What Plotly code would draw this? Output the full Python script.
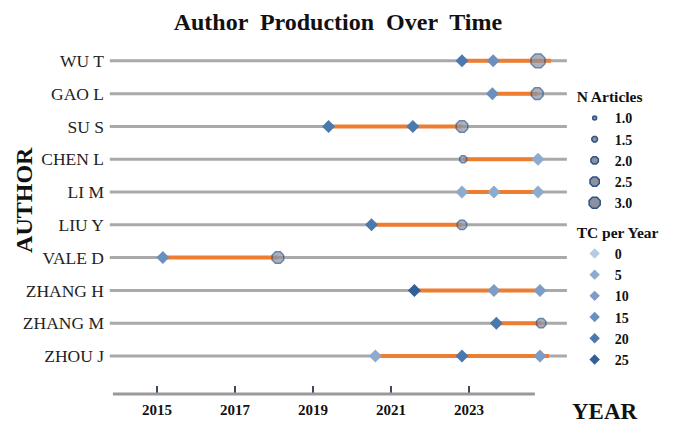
import plotly.graph_objects as go

# ---------------- data ----------------
authors = ["ZHOU J", "ZHANG M", "ZHANG H", "VALE D", "LIU Y",
           "LI M", "CHEN L", "SU S", "GAO L", "WU T"]  # bottom -> top

# production span (orange segment) per author
seg_author = ["WU T", "GAO L", "SU S", "CHEN L", "LI M", "LIU Y",
              "VALE D", "ZHANG H", "ZHANG M", "ZHOU J"]
seg_start = [2022.82, 2023.60, 2019.40, 2022.85, 2022.82, 2020.50,
             2015.15, 2021.60, 2023.70, 2020.60]
seg_end = [2025.10, 2024.75, 2022.82, 2024.77, 2024.77, 2022.82,
           2018.10, 2024.82, 2024.85, 2025.05]

# N Articles points (octagon markers)
na_author = ["WU T", "GAO L", "SU S", "CHEN L", "LIU Y", "VALE D", "ZHANG M"]
na_year = [2024.77, 2024.75, 2022.82, 2022.85, 2022.82, 2018.10, 2024.85]
na_value = [3.0, 2.5, 2.5, 1.5, 2.0, 2.5, 2.0]

# TC per Year points (diamond markers)
tc_author = ["WU T", "WU T", "GAO L", "SU S", "SU S", "CHEN L",
             "LI M", "LI M", "LI M", "LIU Y", "VALE D",
             "ZHANG H", "ZHANG H", "ZHANG H", "ZHANG M",
             "ZHOU J", "ZHOU J", "ZHOU J"]
tc_year = [2022.82, 2023.62, 2023.60, 2019.40, 2021.56, 2024.77,
           2022.82, 2023.64, 2024.77, 2020.50, 2015.15,
           2021.60, 2023.64, 2024.82, 2023.70,
           2020.60, 2022.82, 2024.82]
tc_value = [20, 15, 15, 20, 20, 5,
            5, 5, 5, 20, 15,
            25, 10, 10, 20,
            5, 20, 10]

na_levels = [1.0, 1.5, 2.0, 2.5, 3.0]
tc_levels = [0, 5, 10, 15, 20, 25]
x_ticks = [2015, 2017, 2019, 2021, 2023]

grid_start, grid_end = 2013.79, 2025.51
axis_start, axis_end = 2013.87, 2024.69

# ---------------- styles ----------------
SERIF = "Liberation Serif, Times New Roman, serif"
GRAY = "#a9a9a9"
ORANGE = "#ed7d31"
NA_FILL = "#8a92a2"
NA_LINE = "#2f5283"
tc_colors = {0: "#b7cbe0", 5: "#8eaacc", 10: "#7d9dc6", 15: "#6a90c0",
             20: "#4b79ad", 25: "#315f96"}


def na_size(v):
    return 5 + (v - 1.0) * 5


fig = go.Figure()

# gray background row lines
gx, gy = [], []
for a in authors:
    gx += [grid_start, grid_end, None]
    gy += [a, a, None]
fig.add_trace(go.Scatter(x=gx, y=gy, mode="lines",
                         line=dict(color=GRAY, width=3),
                         hoverinfo="skip", showlegend=False))

# orange production segments
ox, oy = [], []
for a, s, e in zip(seg_author, seg_start, seg_end):
    ox += [s, e, None]
    oy += [a, a, None]
fig.add_trace(go.Scatter(x=ox, y=oy, mode="lines",
                         line=dict(color=ORANGE, width=4),
                         hoverinfo="skip", showlegend=False))

# diamonds (TC per year)
fig.add_trace(go.Scatter(
    x=tc_year, y=tc_author, mode="markers",
    marker=dict(symbol="diamond", size=10,
                color=[tc_colors[v] for v in tc_value],
                line=dict(width=0)),
    showlegend=False, cliponaxis=False))

# octagons (N articles)
fig.add_trace(go.Scatter(
    x=na_year, y=na_author, mode="markers",
    marker=dict(symbol="octagon", size=[na_size(v) for v in na_value],
                color=NA_FILL, line=dict(color=NA_LINE, width=1.5)),
    showlegend=False, cliponaxis=False))

# legend entries
for v in na_levels:
    fig.add_trace(go.Scatter(
        x=[None], y=[None], mode="markers", name=f"<b>{v:.1f}</b>",
        marker=dict(symbol="octagon" if v > 1.0 else "circle",
                    size=na_size(v) * 0.8,
                    color=NA_FILL, line=dict(color=NA_LINE, width=1.5)),
        legend="legend"))
for v in tc_levels:
    fig.add_trace(go.Scatter(
        x=[None], y=[None], mode="markers", name=f"<b>{v}</b>",
        marker=dict(symbol="diamond", size=8, color=tc_colors[v]),
        legend="legend2"))

# x axis line
fig.add_shape(type="line", xref="x", yref="paper",
              x0=axis_start, x1=axis_end, y0=0, y1=0,
              line=dict(color="#9a9a9a", width=3))

fig.add_annotation(text="<b>AUTHOR</b>", xref="paper", yref="paper",
                   x=-0.174, y=0.566, textangle=-90, showarrow=False,
                   xanchor="center", yanchor="middle",
                   font=dict(family=SERIF, size=24, color="#111"))
fig.add_annotation(text="<b>YEAR</b>", xref="paper", yref="paper",
                   x=1.075, y=-0.052, showarrow=False,
                   xanchor="center", yanchor="middle",
                   font=dict(family=SERIF, size=23, color="#111"))

legend_common = dict(
    bgcolor="rgba(0,0,0,0)", itemsizing="trace",
    font=dict(family=SERIF, size=14, color="#111"),
    itemwidth=30, tracegroupgap=0, xanchor="left", yanchor="top")

fig.update_layout(
    width=676, height=425,
    margin=dict(l=97, r=114, t=43, b=39, autoexpand=False),
    paper_bgcolor="white", plot_bgcolor="white",
    title=dict(text="<b>Author  Production  Over  Time</b>",
               x=0.488, xanchor="center", y=0.967, yanchor="middle",
               font=dict(family=SERIF, size=24, color="#111")),
    xaxis=dict(range=[2013.667, 2025.59], tickvals=x_ticks,
               ticktext=[f"<b>{t}</b>" for t in x_ticks],
               ticks="inside", ticklen=8, tickwidth=2, tickcolor="#3b4a5c",
               ticklabelstandoff=5,
               showgrid=False, zeroline=False, showline=False,
               tickfont=dict(family=SERIF, size=15, color="#111")),
    yaxis=dict(type="category", categoryorder="array", categoryarray=authors,
               range=[-1.16, 9.3], showgrid=False, zeroline=False,
               showline=False, ticks="",
               tickfont=dict(family=SERIF, size=17.5, color="#222")),
    legend=dict(x=1.01, y=0.909,
                title=dict(text="<b>N Articles</b>",
                           font=dict(family=SERIF, size=15.5, color="#111")),
                **legend_common),
    legend2=dict(x=1.01, y=0.514,
                 title=dict(text="<b>TC per Year</b>",
                            font=dict(family=SERIF, size=15.5, color="#111")),
                 **legend_common),
    showlegend=True,
)

fig.write_html("out.html")
